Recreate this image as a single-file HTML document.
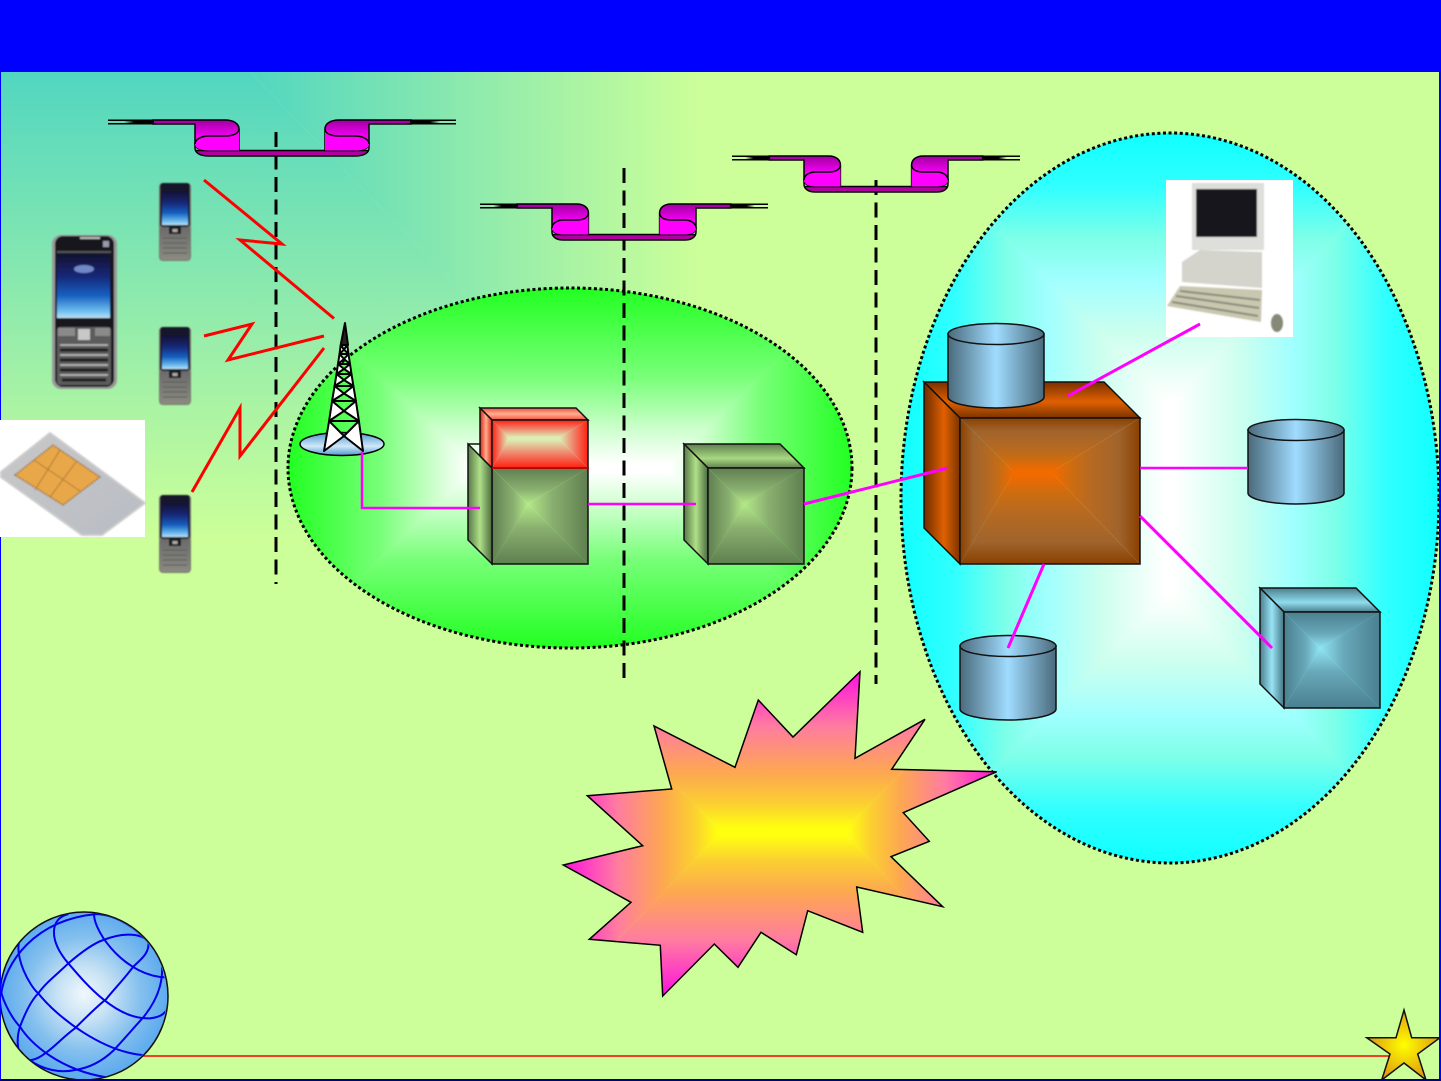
<!DOCTYPE html>
<html><head><meta charset="utf-8"><title>Network diagram</title>
<style>html,body{margin:0;padding:0;background:#ccff99}svg{display:block}</style></head>
<body>
<svg xmlns="http://www.w3.org/2000/svg" width="1441" height="1081" viewBox="0 0 1441 1081">
<defs>
<filter id="soft" x="-5%" y="-5%" width="110%" height="110%"><feGaussianBlur stdDeviation="0.7"/></filter>
<linearGradient id="bgA"><stop offset="0" stop-color="#52d6c0"/><stop offset="1" stop-color="#ccff99"/></linearGradient>
<linearGradient id="bgR" href="#bgA" x1="0" y1="0" x2="1" y2="0"/>
<linearGradient id="bgD" href="#bgA" x1="0" y1="0" x2="0" y2="1"/>

<linearGradient id="gr"><stop offset="0" stop-color="#22ff22"/><stop offset=".5" stop-color="#77ff77"/><stop offset=".8" stop-color="#ccffcc"/><stop offset="1" stop-color="#ffffff"/></linearGradient>
<linearGradient id="grD" href="#gr" x1="0" y1="0" x2="0" y2="1"/><linearGradient id="grU" href="#gr" x1="0" y1="1" x2="0" y2="0"/><linearGradient id="grR" href="#gr" x1="0" y1="0" x2="1" y2="0"/><linearGradient id="grL" href="#gr" x1="1" y1="0" x2="0" y2="0"/>

<linearGradient id="cy"><stop offset="0" stop-color="#10ffff"/><stop offset=".2" stop-color="#30ffff"/><stop offset=".4" stop-color="#7fffe8"/><stop offset=".55" stop-color="#a0ffff"/><stop offset=".75" stop-color="#ccffee"/><stop offset="1" stop-color="#ffffff"/></linearGradient>
<linearGradient id="cyD" href="#cy" x1="0" y1="0" x2="0" y2="1"/><linearGradient id="cyU" href="#cy" x1="0" y1="1" x2="0" y2="0"/><linearGradient id="cyR" href="#cy" x1="0" y1="0" x2="1" y2="0"/><linearGradient id="cyL" href="#cy" x1="1" y1="0" x2="0" y2="0"/>

<linearGradient id="bu"><stop offset="0" stop-color="#ff10e0"/><stop offset=".35" stop-color="#ff7ca0"/><stop offset=".65" stop-color="#fda850"/><stop offset=".85" stop-color="#fbd030"/><stop offset="1" stop-color="#ffff10"/></linearGradient>
<linearGradient id="buD" href="#bu" x1="0" y1="0" x2="0" y2="1"/><linearGradient id="buU" href="#bu" x1="0" y1="1" x2="0" y2="0"/><linearGradient id="buR" href="#bu" x1="0" y1="0" x2="1" y2="0"/><linearGradient id="buL" href="#bu" x1="1" y1="0" x2="0" y2="0"/>

<linearGradient id="or"><stop offset="0" stop-color="#8a4000"/><stop offset=".25" stop-color="#a0642c"/><stop offset=".6" stop-color="#b86a20"/><stop offset=".8" stop-color="#cc6c10"/><stop offset="1" stop-color="#f06a00"/></linearGradient>
<linearGradient id="orD" href="#or" x1="0" y1="0" x2="0" y2="1"/><linearGradient id="orU" href="#or" x1="0" y1="1" x2="0" y2="0"/><linearGradient id="orR" href="#or" x1="0" y1="0" x2="1" y2="0"/><linearGradient id="orL" href="#or" x1="1" y1="0" x2="0" y2="0"/>
<linearGradient id="orH" x1="0" y1="0" x2="1" y2="0"><stop offset="0" stop-color="#6e2c00"/><stop offset=".55" stop-color="#e06000"/><stop offset="1" stop-color="#7a3400"/></linearGradient>
<linearGradient id="orV" x1="0" y1="0" x2="0" y2="1"><stop offset="0" stop-color="#7a3000"/><stop offset=".55" stop-color="#e06000"/><stop offset="1" stop-color="#7a3400"/></linearGradient>

<linearGradient id="ge"><stop offset="0" stop-color="#5f7f50"/><stop offset=".6" stop-color="#8ab070"/><stop offset="1" stop-color="#b4e888"/></linearGradient>
<linearGradient id="geD" href="#ge" x1="0" y1="0" x2="0" y2="1"/><linearGradient id="geU" href="#ge" x1="0" y1="1" x2="0" y2="0"/><linearGradient id="geR" href="#ge" x1="0" y1="0" x2="1" y2="0"/><linearGradient id="geL" href="#ge" x1="1" y1="0" x2="0" y2="0"/>
<linearGradient id="geH" x1="0" y1="0" x2="1" y2="0"><stop offset="0" stop-color="#577a48"/><stop offset=".5" stop-color="#b0e088"/><stop offset="1" stop-color="#4a6a40"/></linearGradient>
<linearGradient id="geV" x1="0" y1="0" x2="0" y2="1"><stop offset="0" stop-color="#5f7f50"/><stop offset=".6" stop-color="#a8d880"/><stop offset="1" stop-color="#5f7f50"/></linearGradient>

<linearGradient id="te"><stop offset="0" stop-color="#4a7f90"/><stop offset=".6" stop-color="#68a8b8"/><stop offset="1" stop-color="#90e4f4"/></linearGradient>
<linearGradient id="teD" href="#te" x1="0" y1="0" x2="0" y2="1"/><linearGradient id="teU" href="#te" x1="0" y1="1" x2="0" y2="0"/><linearGradient id="teR" href="#te" x1="0" y1="0" x2="1" y2="0"/><linearGradient id="teL" href="#te" x1="1" y1="0" x2="0" y2="0"/>
<linearGradient id="teH" x1="0" y1="0" x2="1" y2="0"><stop offset="0" stop-color="#4a7f90"/><stop offset=".5" stop-color="#98e4f4"/><stop offset="1" stop-color="#437383"/></linearGradient>
<linearGradient id="teV" x1="0" y1="0" x2="0" y2="1"><stop offset="0" stop-color="#4a7f90"/><stop offset=".6" stop-color="#90dcec"/><stop offset="1" stop-color="#4a7f90"/></linearGradient>

<linearGradient id="re"><stop offset="0" stop-color="#ff2010"/><stop offset=".5" stop-color="#f08068"/><stop offset="1" stop-color="#dcecb4"/></linearGradient>
<linearGradient id="reD" href="#re" x1="0" y1="0" x2="0" y2="1"/><linearGradient id="reU" href="#re" x1="0" y1="1" x2="0" y2="0"/><linearGradient id="reR" href="#re" x1="0" y1="0" x2="1" y2="0"/><linearGradient id="reL" href="#re" x1="1" y1="0" x2="0" y2="0"/>
<linearGradient id="reH" x1="0" y1="0" x2="1" y2="0"><stop offset="0" stop-color="#e02010"/><stop offset=".5" stop-color="#ffb090"/><stop offset="1" stop-color="#e02010"/></linearGradient>
<linearGradient id="reV" x1="0" y1="0" x2="0" y2="1"><stop offset="0" stop-color="#f05040"/><stop offset=".5" stop-color="#ffb090"/><stop offset="1" stop-color="#f05040"/></linearGradient>

<linearGradient id="cyl" x1="0" y1="0" x2="1" y2="0"><stop offset="0" stop-color="#4a6a7c"/><stop offset=".5" stop-color="#a0dcff"/><stop offset="1" stop-color="#4a6a7c"/></linearGradient>
<linearGradient id="rib" x1="0" y1="0" x2="0" y2="1"><stop offset="0" stop-color="#a000a0"/><stop offset=".6" stop-color="#ff00ff"/><stop offset="1" stop-color="#ff00ff"/></linearGradient>
<linearGradient id="towerB" x1="0" y1="0" x2="0" y2="1"><stop offset="0" stop-color="#5098d0"/><stop offset=".6" stop-color="#cfe8f8"/><stop offset="1" stop-color="#5098d0"/></linearGradient>
<linearGradient id="scr" x1="0" y1="0" x2="0" y2="1"><stop offset="0" stop-color="#101030"/><stop offset=".35" stop-color="#182878"/><stop offset=".65" stop-color="#1860c0"/><stop offset=".9" stop-color="#70c0f0"/><stop offset="1" stop-color="#c0e0f0"/></linearGradient>
<linearGradient id="key" x1="0" y1="0" x2="0" y2="1"><stop offset="0" stop-color="#6a6a6a"/><stop offset="1" stop-color="#8a8a80"/></linearGradient>
<linearGradient id="sim" x1="0" y1="0" x2="1" y2="1"><stop offset="0" stop-color="#c8c8c8"/><stop offset="1" stop-color="#b8bcc4"/></linearGradient>
<radialGradient id="glob" cx=".5" cy=".49" r=".52"><stop offset="0" stop-color="#f0f8fc"/><stop offset=".3" stop-color="#c8e2f4"/><stop offset=".65" stop-color="#84c0ee"/><stop offset="1" stop-color="#58a8ee"/></radialGradient>
<radialGradient id="starG" gradientUnits="userSpaceOnUse" cx="1404" cy="1045" r="34"><stop offset="0" stop-color="#ffff00"/><stop offset="1" stop-color="#e0a010"/></radialGradient>
<clipPath id="cG"><ellipse cx="570" cy="468" rx="282" ry="180"/></clipPath>
<clipPath id="cB"><ellipse cx="1170" cy="498" rx="269" ry="365"/></clipPath>
<clipPath id="cGlob"><circle cx="250" cy="288" r="250"/></clipPath>
<clipPath id="cBu"><polygon points="860,671.7 855,758.3 925,719.3 891.7,769.3 996.7,771.7 903.3,812.7 929.3,841.3 891,856.7 942.7,906.7 856.7,887 862.7,932.3 807.7,910.7 796.3,954.7 761,932.3 738,967.3 714.3,944 662.7,996 660.3,945.3 589.3,939.3 631,902.3 563.3,865 642.7,845.7 587.3,795.7 671.7,789 654,726 735,767.3 758.3,700 793,737"/></clipPath>

<g id="half">
<path d="M87,23V28C87,33 92,36 101,36H174V30.5H87Z" fill="#b000a0"/>
<path vector-effect="non-scaling-stroke" d="M87,23V28C87,33 92,36 101,36H174M174,30.5H87" fill="none" stroke="#000" stroke-width="1.500"/>
<path d="M44,0H117C126,0 131,4 131,9V30.5H101C92,30.500 87,28 87,24V4H44Z" fill="url(#rib)"/>
<path vector-effect="non-scaling-stroke" d="M44,0H117C126,0 131,4 131,9V30.5H101C92,30.500 87,28 87,24V4H44" fill="none" stroke="#000" stroke-width="1.500"/>
<path d="M87,24C87,20 92,16 101,16H117C126,16 131,13 131,9V30.5H101C92,30.500 87,28 87,24Z" fill="#ff00ff"/>
<path vector-effect="non-scaling-stroke" d="M87,24C87,20 92,16 101,16H117C126,16 131,13 131,9" fill="none" stroke="#000" stroke-width="1.500"/>
<path d="M0,-.5H46V4.500H0V3H16L26,2L16,1H0Z" fill="#000"/>
</g>

<g id="ph" filter="url(#soft)">
<rect x="0" y="0" width="32" height="78" rx="4" fill="#7a7a72"/>
<rect x="1" y="0" width="30" height="44" rx="3" fill="#15152a"/>
<rect x="3" y="8" width="26" height="34" fill="url(#scr)"/>
<rect x="1" y="44" width="30" height="33" rx="3" fill="url(#key)"/>
<rect x="10" y="43" width="12" height="8" fill="#1a1a1a"/>
<rect x="13.500" y="46" width="5" height="3" fill="#aaa"/>
<path d="M4,55H28M4,60H28M4,65H28M4,70H28" stroke="#5a5a5a" stroke-width="1" fill="none"/>
</g>
</defs>

<rect width="1441" height="1081" fill="#ccff99"/>
<polygon points="250,72 700,72 700,538" fill="url(#bgR)"/>
<polygon points="0,72 250,72 700,538 0,538" fill="url(#bgD)"/>

<!-- green ellipse -->
<g clip-path="url(#cG)">
<polygon points="288,288 852,288 670,464 470,464" fill="url(#grD)"/>
<polygon points="288,648 852,648 670,472 470,472" fill="url(#grU)"/>
<polygon points="288,288 470,464 470,472 288,648" fill="url(#grR)"/>
<polygon points="852,288 670,464 670,472 852,648" fill="url(#grL)"/>
<rect x="470" y="464" width="200" height="8" fill="#fff"/>
</g>
<ellipse cx="570" cy="468" rx="282" ry="180" fill="none" stroke="#000" stroke-width="3" stroke-dasharray="3 2.6"/>

<!-- blue ellipse -->
<g clip-path="url(#cB)">
<polygon points="901,133 1439,133 1174,400 1166,400" fill="url(#cyD)"/>
<polygon points="901,863 1439,863 1174,596 1166,596" fill="url(#cyU)"/>
<polygon points="901,133 1166,400 1166,596 901,863" fill="url(#cyR)"/>
<polygon points="1439,133 1174,400 1174,596 1439,863" fill="url(#cyL)"/>
<rect x="1166" y="400" width="8" height="196" fill="#fff"/>
</g>
<ellipse cx="1170" cy="498" rx="269" ry="365" fill="none" stroke="#000" stroke-width="3" stroke-dasharray="3 2.6"/>

<!-- dashed lines -->
<g stroke="#000" stroke-width="3" stroke-dasharray="15 7.500" fill="none">
<path d="M276,132V584"/><path d="M624,168V684"/><path d="M876,180V684"/>
</g>

<!-- ribbons -->
<use href="#half" transform="translate(108,120)"/>
<use href="#half" transform="translate(456,120) scale(-1,1)"/>
<use href="#half" transform="translate(480,204) scale(.8276,1)"/>
<use href="#half" transform="translate(768,204) scale(-.8276,1)"/>
<use href="#half" transform="translate(732,156) scale(.8276,1)"/>
<use href="#half" transform="translate(1020,156) scale(-.8276,1)"/>

<!-- phones -->
<use href="#ph" transform="translate(159,183)"/>
<use href="#ph" transform="translate(159,327)"/>
<use href="#ph" transform="translate(159,495)"/>

<!-- big phone -->
<g filter="url(#soft)">
<rect x="52" y="235" width="65" height="154" rx="9" fill="#9a9a9a"/>
<rect x="55" y="236" width="59" height="151" rx="8" fill="#12121a"/>
<rect x="80" y="237" width="20" height="2" fill="#bbb"/>
<rect x="57" y="251" width="54" height="2" fill="#555"/>
<rect x="57" y="254" width="53" height="64" fill="url(#scr)"/>
<ellipse cx="84" cy="269" rx="10" ry="4" fill="#7088c8"/>
<rect x="103" y="241" width="6" height="6" fill="#99a"/>
<rect x="57" y="327" width="54" height="58" rx="3" fill="#5c5c5c"/>
<rect x="58" y="328" width="17" height="8" fill="#8a8a8a"/><rect x="95" y="328" width="15" height="8" fill="#8a8a8a"/>
<rect x="78" y="329" width="12" height="11" fill="#c8c8c8"/>
<path d="M60,350H108M60,360H108M60,370H108M62,380H106" stroke="#1c1c1c" stroke-width="3" fill="none"/>
<path d="M60,345H108M60,355H108M60,365H108M60,375H108" stroke="#c0c0c0" stroke-width="1.500" fill="none"/>
</g>

<!-- sim -->
<rect x="0" y="420" width="145" height="117" fill="#fff"/>
<g filter="url(#soft)">
<polygon points="1,472 50,433 145,503 102,535 82,535 1,477" fill="url(#sim)" stroke="#ccc" stroke-linejoin="round" stroke-width="2"/>
<polygon points="15,475 53,445 100,477 63,505" fill="#e8a848" stroke="#a07030" stroke-width="1.500" stroke-dasharray="2 1"/>
<path d="M34,460L80,491M60,450L35,490M76,462L50,497" stroke="#b07830" stroke-width="1" fill="none"/>
</g>

<!-- zig-zags -->
<g fill="none" stroke="#ff0000" stroke-width="3">
<polyline points="204,180 282,244 240,240 334,318.500"/>
<polyline points="204,336 252,324 228,360 324,336"/>
<polyline points="192,492 240,408 240,456 324,348"/>
</g>

<!-- tower -->
<ellipse cx="342" cy="444" rx="42" ry="11.500" fill="url(#towerB)" stroke="#000" stroke-width="1.500"/>
<g stroke="#000" stroke-width="2" fill="#fff" stroke-linejoin="round">
<polygon points="324,451 329.100,421 344,436"/><polygon points="363,451 358.900,421 344,436"/>
<polygon points="329.100,421 332.100,401 344,411"/><polygon points="358.900,421 355.900,401 344,411"/>
<polygon points="332.100,401 334.600,386 344,393.500"/><polygon points="355.900,401 353.400,386 344,393.500"/>
<polygon points="334.600,386 336.500,374 344,380"/><polygon points="353.400,386 351.500,374 344,380"/>
<polygon points="336.500,374 338,364 344,369"/><polygon points="351.500,374 350,364 344,369"/>
<polygon points="338,364 339.500,354 344,359"/><polygon points="350,364 348.500,354 344,359"/>
<polygon points="339.500,354 340.700,345 344,349.500"/><polygon points="348.500,354 347.300,345 344,349.500"/>
<polygon points="340.700,345 348,345 345,323" fill="#222"/>
<path d="M329.100,421H358.900M332.100,401H355.900M334.600,386H353.400M336.500,374H351.500M338,364H350M339.500,354H348.500" fill="none"/>
</g>

<!-- green cube 1 -->
<polygon points="492,468 588,468 528,504" fill="url(#geD)"/>
<polygon points="492,564 588,564 528,504" fill="url(#geU)"/>
<polygon points="492,468 528,504 492,564" fill="url(#geR)"/>
<polygon points="588,468 528,504 588,564" fill="url(#geL)"/>
<rect x="492" y="468" width="96" height="96" fill="none" stroke="#111" stroke-width="1.500"/>
<polygon points="468,444 492,468 492,564 468,540" fill="url(#geH)" stroke="#111" stroke-width="1.500"/>
<path d="M468,444H490" stroke="#111" stroke-width="1.500"/>
<polyline points="362,452 362,508 480,508" fill="none" stroke="#ff00ff" stroke-width="2.500"/>

<!-- red box -->
<polygon points="480,408 576,408 588,420 492,420" fill="url(#reV)" stroke="#111" stroke-width="1.500"/>
<polygon points="480,408 492,420 492,468 480,456" fill="url(#reH)" stroke="#111" stroke-width="1.500"/>
<polygon points="492,420 588,420 560,437 508,437" fill="url(#reD)"/>
<polygon points="492,468 588,468 560,440 508,440" fill="url(#reU)"/>
<polygon points="492,420 508,437 508,440 492,468" fill="url(#reR)"/>
<polygon points="588,420 560,437 560,440 588,468" fill="url(#reL)"/>
<rect x="508" y="437" width="52" height="3" fill="#dcecb4"/>
<rect x="492" y="420" width="96" height="48" fill="none" stroke="#111" stroke-width="1.500"/>
<path d="M492,468H589" stroke="#e00000" stroke-width="1.500"/>

<!-- green cube 2 -->
<polygon points="684,444 780,444 804,468 708,468" fill="url(#geV)" stroke="#111" stroke-width="1.500"/>
<polygon points="684,444 708,468 708,564 684,540" fill="url(#geH)" stroke="#111" stroke-width="1.500"/>
<polygon points="708,468 804,468 744,504" fill="url(#geD)"/>
<polygon points="708,564 804,564 744,504" fill="url(#geU)"/>
<polygon points="708,468 744,504 708,564" fill="url(#geR)"/>
<polygon points="804,468 744,504 804,564" fill="url(#geL)"/>
<rect x="708" y="468" width="96" height="96" fill="none" stroke="#111" stroke-width="1.500"/>

<!-- orange cube -->
<polygon points="924,382 1104,382 1140,418 960,418" fill="url(#orV)" stroke="#111" stroke-width="1.500"/>
<polygon points="924,382 960,418 960,564 924,528" fill="url(#orH)" stroke="#111" stroke-width="1.500"/>
<polygon points="960,418 1140,418 1055,470 1012,470" fill="url(#orD)"/>
<polygon points="960,564 1140,564 1055,476 1012,476" fill="url(#orU)"/>
<polygon points="960,418 1012,470 1012,476 960,564" fill="url(#orR)"/>
<polygon points="1140,418 1055,470 1055,476 1140,564" fill="url(#orL)"/>
<rect x="1012" y="470" width="43" height="6" fill="#f06a00"/>
<rect x="960" y="418" width="180" height="146" fill="none" stroke="#111" stroke-width="1.500"/>

<!-- teal cube -->
<polygon points="1260,588 1356,588 1380,612 1284,612" fill="url(#teV)" stroke="#111" stroke-width="1.500"/>
<polygon points="1260,588 1284,612 1284,708 1260,684" fill="url(#teH)" stroke="#111" stroke-width="1.500"/>
<polygon points="1284,612 1380,612 1320,648" fill="url(#teD)"/>
<polygon points="1284,708 1380,708 1320,648" fill="url(#teU)"/>
<polygon points="1284,612 1320,648 1284,708" fill="url(#teR)"/>
<polygon points="1380,612 1320,648 1380,708" fill="url(#teL)"/>
<rect x="1284" y="612" width="96" height="96" fill="none" stroke="#111" stroke-width="1.500"/>

<!-- computer -->
<rect x="1166" y="180" width="127" height="157" fill="#fff"/>
<g filter="url(#soft)">
<rect x="1192" y="183" width="72" height="67" fill="#dededa"/>
<rect x="1196" y="189" width="61" height="48" fill="#15151c"/>
<polygon points="1182,262 1200,250 1262,252 1262,288 1182,282" fill="#d4d4cc"/>
<polygon points="1167,306 1180,286 1262,290 1261,322" fill="#c8c8b0"/>
<path d="M1172,302L1258,316M1176,296L1259,308M1180,291L1260,300" stroke="#8a8a78" stroke-width="2" fill="none"/>
<ellipse cx="1277" cy="323" rx="6" ry="9" fill="#888878"/>
</g>

<!-- cylinders -->
<g stroke="#111" stroke-width="1.500">
<path d="M948,334V397A48,11 0 0 0 1044,397V334Z" fill="url(#cyl)"/><ellipse cx="996" cy="334" rx="48" ry="10.500" fill="url(#cyl)"/>
<path d="M1248,430V493A48,11 0 0 0 1344,493V430Z" fill="url(#cyl)"/><ellipse cx="1296" cy="430" rx="48" ry="10.500" fill="url(#cyl)"/>
<path d="M960,646V709A48,11 0 0 0 1056,709V646Z" fill="url(#cyl)"/><ellipse cx="1008" cy="646" rx="48" ry="10.500" fill="url(#cyl)"/>
</g>

<!-- magenta connectors -->
<g fill="none" stroke="#ff00ff" stroke-width="2.500">
<path d="M588,504H696"/>
<path d="M804,504L948,468" stroke-width="3"/>
<path d="M1068,396L1200,324" stroke-width="3"/>
<path d="M1140,468H1248"/>
<path d="M1140,516L1272,648" stroke-width="3"/>
<path d="M1044,564L1008,648" stroke-width="3"/>
</g>

<!-- burst -->
<g clip-path="url(#cBu)">
<polygon points="563,672 997,672 848,828 718,828" fill="url(#buD)"/>
<polygon points="563,996 997,996 848,836 718,836" fill="url(#buU)"/>
<polygon points="563,672 718,828 718,836 563,996" fill="url(#buR)"/>
<polygon points="997,672 848,828 848,836 997,996" fill="url(#buL)"/>
<rect x="718" y="828" width="130" height="8" fill="#ffff10"/>
</g>
<polygon points="860,671.700 855,758.300 925,719.300 891.700,769.300 996.700,771.700 903.300,812.700 929.300,841.300 891,856.700 942.700,906.700 856.700,887 862.700,932.300 807.700,910.700 796.300,954.700 761,932.300 738,967.300 714.300,944 662.700,996 660.300,945.300 589.300,939.300 631,902.300 563.300,865 642.700,845.700 587.300,795.700 671.700,789 654,726 735,767.300 758.300,700 793,737" fill="none" stroke="#000" stroke-width="1.500"/>

<!-- baseline -->
<path d="M140,1056H1392" stroke="#ff0000" stroke-width="1.500"/>

<!-- globe -->
<circle cx="84" cy="996" r="84" fill="url(#glob)" stroke="#111" stroke-width="1.500"/>
<g transform="translate(0,900) scale(.3333)">
<g clip-path="url(#cGlob)" fill="none" stroke="#0000ee" stroke-width="6">
<path d="M282,42C282,100 380,230 498,232"/>
<path d="M205,42C150,55 145,120 205,190C260,255 350,360 450,355C480,352 500,340 502,320"/>
<path d="M60,115C40,170 90,260 115,280C170,350 310,460 440,466"/>
<path d="M2,270C10,310 40,360 60,380C90,430 180,510 320,532"/>
<path d="M445,125C450,160 420,180 400,200C370,240 340,270 318,298C290,320 260,350 225,385C190,410 165,440 138,458C110,480 80,490 65,470C50,450 50,410 60,380C75,340 95,300 115,280C140,245 175,220 205,190C240,160 280,130 310,120C360,100 420,95 445,125"/>
<path d="M3,285C15,190 100,60 290,42C350,45 420,85 480,170"/>
<path d="M482,165C495,230 480,290 430,352C400,385 370,420 340,452C300,490 260,505 225,510C180,520 130,510 85,478"/>
</g>
</g>

<!-- star -->
<polygon points="1404,1010 1411.700,1037.700 1440,1037.700 1417.700,1054 1426,1080 1404,1063 1381.700,1080 1390,1054 1366.700,1037.700 1396,1037.700" fill="url(#starG)" stroke="#111" stroke-width="1.500"/>

<!-- frame -->
<rect x="0" y="0" width="1441" height="72" fill="#0000ff"/>
<rect x="0" y="72" width="1" height="348" fill="#0000ff"/>
<rect x="0" y="537" width="1" height="544" fill="#0000ff"/>
<rect x="1439" y="72" width="2" height="1009" fill="#0000ff"/>
<rect x="0" y="1079" width="1441" height="2" fill="#000080"/>
</svg>
</body></html>
